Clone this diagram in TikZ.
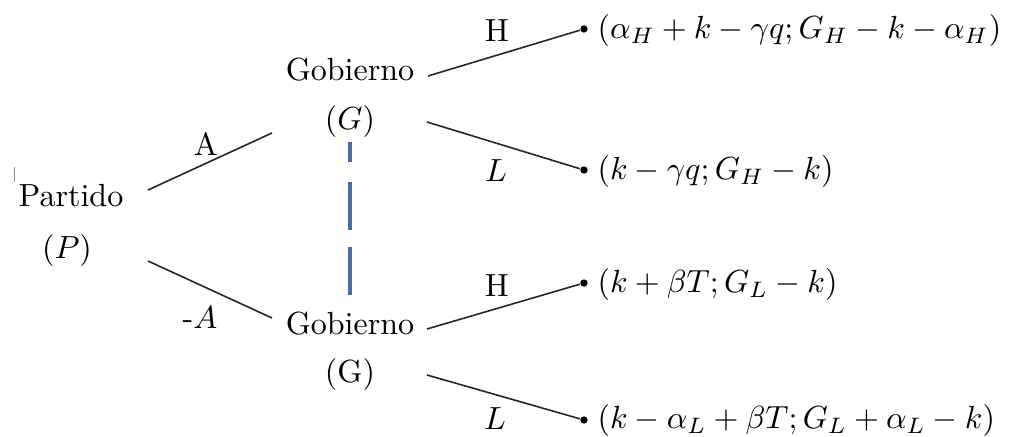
\documentclass[tikz,border=0pt]{standalone}
\definecolor{dashblue}{RGB}{72,108,168}
\tikzset{
  txt/.style={inner sep=0pt, anchor=base},
  lbl/.style={inner sep=0pt},
  branch/.style={line width=0.5pt, black!85},
  enddot/.style={circle, fill=black, inner sep=0pt, minimum size=2.3pt},
  pay/.style={anchor=west, inner sep=0pt},
  infoset/.style={line width=1.3pt, dashblue, dash pattern=on 6.2pt off 6.2pt on 15pt off 5.3pt on 15pt off 30pt}
}
\begin{document}
\begin{tikzpicture}[x=0.3125pt,y=-0.3125pt]
\useasboundingbox (0,0) rectangle (1017,437);
% small stray tick
\draw[line width=0.3pt, black!45] (14,167) -- (14,182);
% Partido
\node[txt] (P1) at (71,207) {Partido};
\node[txt] (P2) at (67,259) {$(P)$};
% Gobierno nodes
\node[txt] (G1) at (350,81) {Gobierno};
\node[txt] (G2) at (350,130) {$(G)$};
\node[txt] (G3) at (350,335) {Gobierno};
\node[txt] (G4) at (350,383) {(G)};
% line anchor coordinates
\coordinate (pA) at (148,190);
\coordinate (pB) at (148,261);
\coordinate (gA) at (272,133);
\coordinate (gB) at (272,318);
\coordinate (g1r) at (428,76);
\coordinate (g2r) at (427,122);
\coordinate (g3r) at (427,329);
\coordinate (g4r) at (427,375);
\coordinate (is1) at (350,142);
\coordinate (is2) at (350,296);
% end dots
\node[enddot] (d1) at (584,29) {};
\node[enddot] (d2) at (584,170) {};
\node[enddot] (d3) at (584,283) {};
\node[enddot] (d4) at (584,420) {};
% branches
\draw[branch] (pA) -- (gA);
\draw[branch] (pB) -- (gB);
\draw[branch] (g1r) -- (d1);
\draw[branch] (g2r) -- (d2);
\draw[branch] (g3r) -- (d3);
\draw[branch] (g4r) -- (d4);
% information set
\draw[infoset] (is1) -- (is2);
% branch labels
\node[lbl] (lA) at (206,144) {A};
\node[lbl] (lnA) at (200,318) {-$A$};
\node[lbl] (lH1) at (497,31) {H};
\node[lbl] (lL1) at (496,171) {$L$};
\node[lbl] (lH2) at (497,286) {H};
\node[lbl] (lL2) at (495,419) {$L$};
% payoffs
\node[pay] (o1) at (597,31) {$(\alpha_H+k-\gamma q;G_H-k-\alpha_H)$};
\node[pay] (o2) at (597,172) {$(k-\gamma q;G_H-k)$};
\node[pay] (o3) at (597,285) {$(k+\beta T;G_L-k)$};
\node[pay] (o4) at (597,421) {$(k-\alpha_L+\beta T;G_L+\alpha_L-k)$};
\end{tikzpicture}
\end{document}
